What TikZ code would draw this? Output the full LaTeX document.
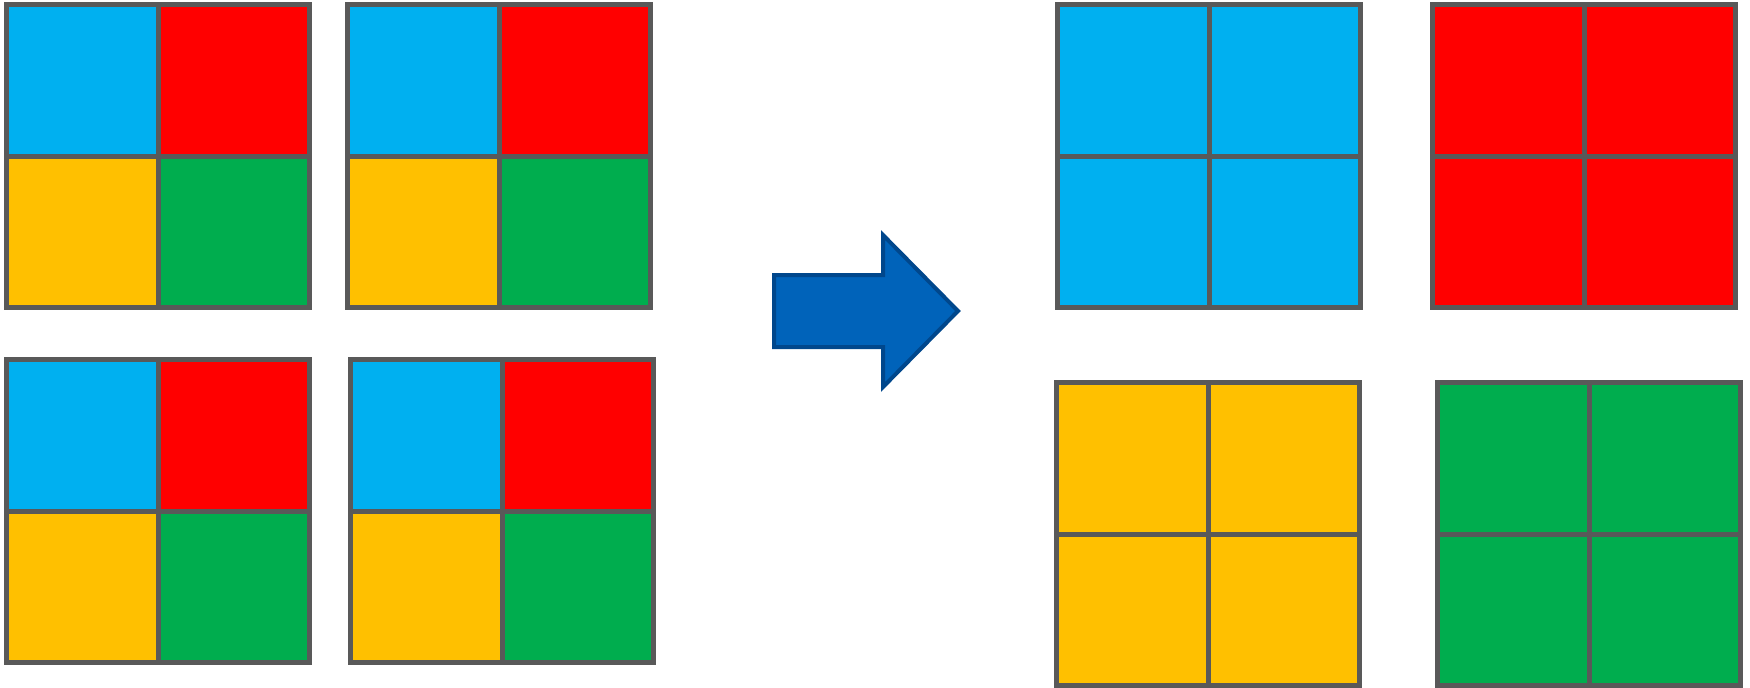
\documentclass[tikz,border=0pt]{standalone}
\usepackage{xcolor}
\usetikzlibrary{positioning}
\definecolor{cellblue}{HTML}{00B0F0}
\definecolor{cellred}{HTML}{FF0000}
\definecolor{cellyellow}{HTML}{FFC000}
\definecolor{cellgreen}{HTML}{00AD4E}
\definecolor{edgegray}{HTML}{595959}
\definecolor{arrowfill}{HTML}{0063BA}
\definecolor{arrowedge}{HTML}{00478C}

\begin{document}
\begin{tikzpicture}[
    x=0.01cm, y=-0.01cm,
    node distance=0pt,
    cell/.style={rectangle, draw=edgegray, line width=0.05cm, minimum size=1.51cm,
                 inner sep=0pt, outer sep=0pt},
    bl/.style={cell, fill=cellblue},
    rd/.style={cell, fill=cellred},
    yl/.style={cell, fill=cellyellow},
    gr/.style={cell, fill=cellgreen},
    bigarrow/.style={fill=arrowfill, draw=arrowedge, line width=0.04cm},
  ]
  \useasboundingbox (0,0) rectangle (1750,687);
  % mixed blocks
  \node[bl] (a1) at (82.5,80.5) {};
  \node[rd, right=of a1] (a2) {};
  \node[yl, below=of a1] (a3) {};
  \node[gr, below=of a2] (a4) {};
  \node[bl] (b1) at (423.5,80.5) {};
  \node[rd, right=of b1] (b2) {};
  \node[yl, below=of b1] (b3) {};
  \node[gr, below=of b2] (b4) {};
  \node[bl] (c1) at (82.5,435.5) {};
  \node[rd, right=of c1] (c2) {};
  \node[yl, below=of c1] (c3) {};
  \node[gr, below=of c2] (c4) {};
  \node[bl] (d1) at (426.5,435.5) {};
  \node[rd, right=of d1] (d2) {};
  \node[yl, below=of d1] (d3) {};
  \node[gr, below=of d2] (d4) {};
  % arrow
  \draw[bigarrow] (774,275) -- (883,275) -- (883,235) -- (958,311)
    -- (883,387) -- (883,347) -- (774,347) -- cycle;
  % sorted blocks
  \node[bl] (e1) at (1133.5,80.5) {};
  \node[bl, right=of e1] (e2) {};
  \node[bl, below=of e1] (e3) {};
  \node[bl, below=of e2] (e4) {};
  \node[rd] (f1) at (1508.5,80.5) {};
  \node[rd, right=of f1] (f2) {};
  \node[rd, below=of f1] (f3) {};
  \node[rd, below=of f2] (f4) {};
  \node[yl] (g1) at (1132.5,458.5) {};
  \node[yl, right=of g1] (g2) {};
  \node[yl, below=of g1] (g3) {};
  \node[yl, below=of g2] (g4) {};
  \node[gr] (h1) at (1513.5,458.5) {};
  \node[gr, right=of h1] (h2) {};
  \node[gr, below=of h1] (h3) {};
  \node[gr, below=of h2] (h4) {};
\end{tikzpicture}
\end{document}
